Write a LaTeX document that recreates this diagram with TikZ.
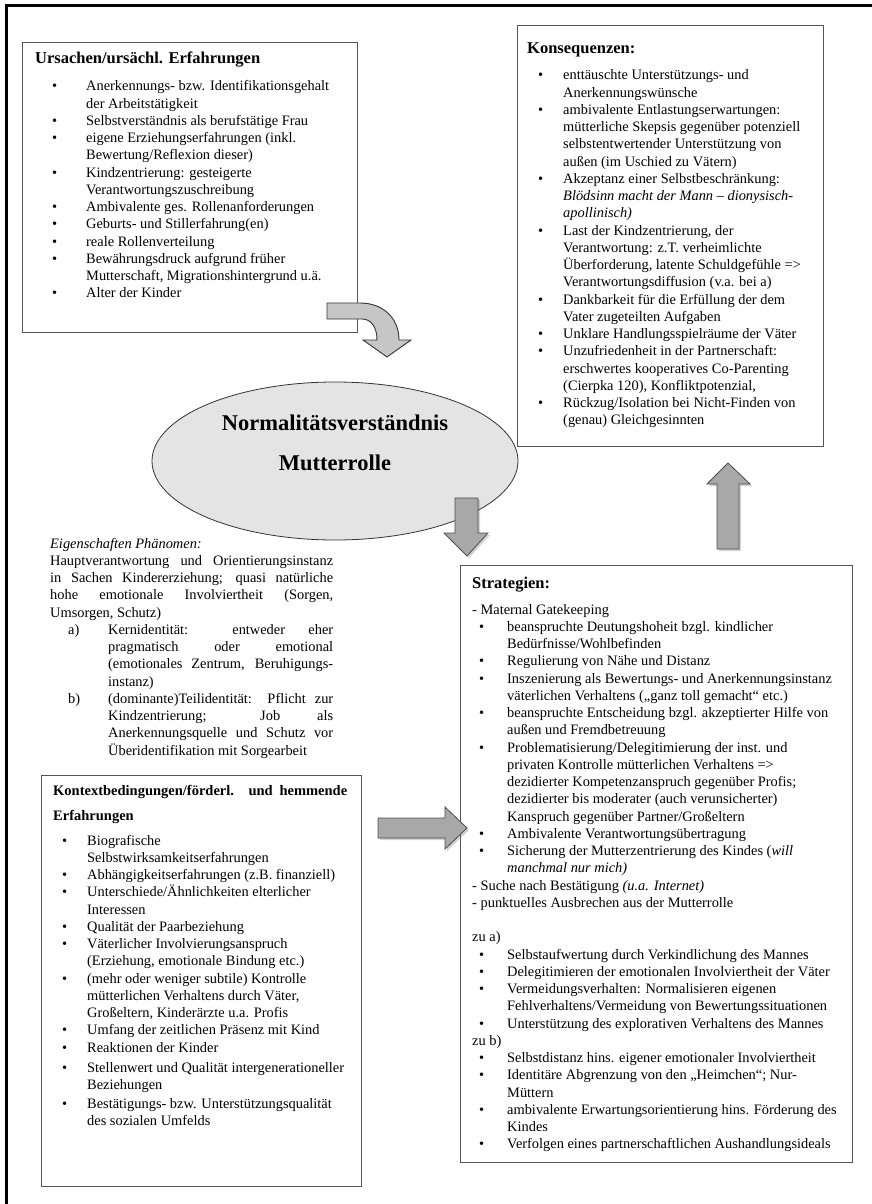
\documentclass[tikz,border=0pt]{standalone}
\usepackage{fontspec}
\setmainfont{Liberation Serif}
\usetikzlibrary{shapes.geometric, shadows, positioning}
\definecolor{framegray}{HTML}{555555}
\definecolor{ovalfill}{HTML}{E4E4E4}
\definecolor{bendfill}{HTML}{C6C6C6}
\definecolor{arrowfill}{HTML}{A8A8A8}

\newlength{\bulx}
\newlength{\labw}
% one line with bullet, a continued line, a plain line
\newcommand{\bl}{\par\noindent\hbox to\labw{\hskip\bulx\textbullet\hfil}}
\newcommand{\fbl}{\noindent\hbox to\labw{\hskip\bulx\textbullet\hfil}}
\newcommand{\cl}{\par\noindent\hbox to\labw{}}
\newcommand{\dl}{\par\noindent}
\newcommand{\boxtitle}[1]{{\fontsize{16.5}{20}\bfseries #1\par}}
\newcommand{\setbullets}[2]{\setlength{\bulx}{#1}\setlength{\labw}{#2}}

\begin{document}
\begin{tikzpicture}[
    x=1pt, y=-1pt,
    panel/.style={rectangle, draw=framegray, line width=0.9pt, fill=white, anchor=north west, inner sep=0pt},
    body/.style={anchor=base west, inner sep=0pt, text width=420pt, align=justify, font=\fontsize{14.4}{17.25}\selectfont},
    phenom/.style={ellipse, draw=black!80, fill=ovalfill, line width=0.8pt, minimum width=366pt, minimum height=158pt},
    blockarrow/.style={draw=black!70, fill=arrowfill, line width=0.8pt, drop shadow={shadow xshift=2pt, shadow yshift=-2pt, opacity=0.35}},
    bendarrow/.style={draw=black!80, fill=bendfill, line width=0.9pt}
]
\useasboundingbox (0,0) rectangle (872,1204);

% page frame
\draw[line width=2.7pt] (872,5.5) -- (6.5,5.5) -- (6.5,1204);

% Boxes
\node[panel, minimum width=335pt, minimum height=290pt] (ursBox) at (22,42) {};
\node[panel, minimum width=306pt, minimum height=421pt] (konsBox) at (517,25) {};
\node[panel, minimum width=320pt, minimum height=411pt] (kontBox) at (41,775) {};
\node[panel, minimum width=392pt, minimum height=597pt] (stratBox) at (460,565) {};

% Ursachen
\node[body] (ursText) at ([shift={(13,22)}]ursBox.north west) {\setbullets{17pt}{51pt}%
\boxtitle{Ursachen/ursächl. Erfahrungen}\vspace{9.75pt}
\bl Anerkennungs- bzw. Identifikationsgehalt
\cl der Arbeitstätigkeit
\bl Selbstverständnis als berufstätige Frau
\bl eigene Erziehungserfahrungen (inkl.
\cl Bewertung/Reflexion dieser)
\bl Kindzentrierung: gesteigerte
\cl Verantwortungszuschreibung
\bl Ambivalente ges. Rollenanforderungen
\bl Geburts- und Stillerfahrung(en)
\bl reale Rollenverteilung
\bl Bewährungsdruck aufgrund früher
\cl Mutterschaft, Migrationshintergrund u.ä.
\bl Alter der Kinder\par};

% Konsequenzen
\node[body] (konsText) at ([shift={(10,29)}]konsBox.north west) {\setbullets{11pt}{36pt}%
\boxtitle{Konsequenzen:}\vspace{8.75pt}
\bl enttäuschte Unterstützungs- und
\cl Anerkennungswünsche
\bl ambivalente Entlastungserwartungen:
\cl mütterliche Skepsis gegenüber potenziell
\cl selbstentwertender Unterstützung von
\cl außen (im Uschied zu Vätern)
\bl Akzeptanz einer Selbstbeschränkung:
\cl \textit{Blödsinn macht der Mann – dionysisch-}
\cl \textit{apollinisch)}
\bl Last der Kindzentrierung, der
\cl Verantwortung: z.T. verheimlichte
\cl Überforderung, latente Schuldgefühle =>
\cl Verantwortungsdiffusion (v.a. bei a)
\bl Dankbarkeit für die Erfüllung der dem
\cl Vater zugeteilten Aufgaben
\bl Unklare Handlungsspielräume der Väter
\bl Unzufriedenheit in der Partnerschaft:
\cl erschwertes kooperatives Co-Parenting
\cl (Cierpka 120), Konfliktpotenzial,
\bl Rückzug/Isolation bei Nicht-Finden von
\cl (genau) Gleichgesinnten\par};

% Phaenomen
\node[phenom] (norm) at (335,461) {};
\node[anchor=base, inner sep=0pt, text width=340pt, align=center, font=\fontsize{22.5}{40}\selectfont\bfseries] (normText) at ([yshift=31pt]norm.center) {Normalitätsverständnis\\Mutterrolle};

\node[body, text width=283pt] (eigText) at (50,548) {%
\textit{Eigenschaften Phänomen:}\par
Hauptverantwortung und Orientierungsinstanz\linebreak in Sachen Kindererziehung; quasi natürliche\linebreak hohe emotionale Involviertheit (Sorgen,\linebreak Umsorgen, Schutz)\par
{\leftskip=58pt\noindent\llap{\hbox to 40pt{a)\hfil}}Kernidentität: entweder eher\linebreak pragmatisch oder emotional\linebreak (emotionales Zentrum, Beruhigungs-\linebreak instanz)\par}
{\leftskip=58pt\noindent\llap{\hbox to 40pt{b)\hfil}}(dominante)Teilidentität: Pflicht zur\linebreak Kindzentrierung; Job als\linebreak Anerkennungsquelle und Schutz vor\linebreak Überidentifikation mit Sorgearbeit\par}};

% Kontextbedingungen
\node[body, text width=294pt, font=\fontsize{14.5}{25}\selectfont\bfseries] (kontTitle) at ([shift={(12,20)}]kontBox.north west) {Kontextbedingungen/förderl. und hemmende\linebreak Erfahrungen\par};
\node[body] (kontText) at ([shift={(12,70)}]kontBox.north west) {\setbullets{9pt}{34pt}%
\fbl Biografische
\cl Selbstwirksamkeitserfahrungen
\bl Abhängigkeitserfahrungen (z.B. finanziell)
\bl Unterschiede/Ähnlichkeiten elterlicher
\cl Interessen
\bl Qualität der Paarbeziehung
\bl Väterlicher Involvierungsanspruch
\cl (Erziehung, emotionale Bindung etc.)
\bl (mehr oder weniger subtile) Kontrolle
\cl mütterlichen Verhaltens durch Väter,
\cl Großeltern, Kinderärzte u.a. Profis
\bl Umfang der zeitlichen Präsenz mit Kind
\bl Reaktionen der Kinder
\par\vspace{3pt}
\bl Stellenwert und Qualität intergenerationeller
\cl Beziehungen
\par\vspace{1.5pt}
\bl Bestätigungs- bzw. Unterstützungsqualität
\cl des sozialen Umfelds\par};

% Strategien
\node[body] (stratText) at ([shift={(12,23)}]stratBox.north west) {\setbullets{7pt}{35pt}%
\boxtitle{Strategien:}\vspace{8.75pt}
\dl - Maternal Gatekeeping
\bl beanspruchte Deutungshoheit bzgl. kindlicher
\cl Bedürfnisse/Wohlbefinden
\bl Regulierung von Nähe und Distanz
\bl Inszenierung als Bewertungs- und Anerkennungsinstanz
\cl väterlichen Verhaltens („ganz toll gemacht“ etc.)
\bl beanspruchte Entscheidung bzgl. akzeptierter Hilfe von
\cl außen und Fremdbetreuung
\bl Problematisierung/Delegitimierung der inst. und
\cl privaten Kontrolle mütterlichen Verhaltens =>
\cl dezidierter Kompetenzanspruch gegenüber Profis;
\cl dezidierter bis moderater (auch verunsicherter)
\cl Kanspruch gegenüber Partner/Großeltern
\bl Ambivalente Verantwortungsübertragung
\bl Sicherung der Mutterzentrierung des Kindes (\textit{will}
\cl \textit{manchmal nur mich)}
\dl - Suche nach Bestätigung \textit{(u.a. Internet)}
\dl - punktuelles Ausbrechen aus der Mutterrolle
\par\vspace{17.25pt}
\dl zu a)
\bl Selbstaufwertung durch Verkindlichung des Mannes
\bl Delegitimieren der emotionalen Involviertheit der Väter
\bl Vermeidungsverhalten: Normalisieren eigenen
\cl Fehlverhaltens/Vermeidung von Bewertungssituationen
\bl Unterstützung des explorativen Verhaltens des Mannes
\dl zu b)
\bl Selbstdistanz hins. eigener emotionaler Involviertheit
\bl Identitäre Abgrenzung von den „Heimchen“; Nur-
\cl Müttern
\bl ambivalente Erwartungsorientierung hins. Förderung des
\cl Kindes
\bl Verfolgen eines partnerschaftlichen Aushandlungsideals\par};

% Arrows
\draw[bendarrow] (327,303) -- (360,303) .. controls (383,303) and (399,318) .. (399,340)
  -- (411,340) -- (387,357) -- (363,340) -- (377,340)
  .. controls (377,327) and (371,319) .. (362,319) -- (327,319) -- cycle;
\draw[blockarrow] (455,498) -- (478,498) -- (478,533) -- (488,533) -- (467,556) -- (444,533) -- (455,533) -- cycle;
\draw[blockarrow] (378,818) -- (445,818) -- (445,807) -- (467,828) -- (445,849) -- (445,838) -- (378,838) -- cycle;
\draw[blockarrow] (717,549) -- (739,549) -- (739,484) -- (750,484) -- (728,463) -- (707,484) -- (717,484) -- cycle;

\end{tikzpicture}
\end{document}
